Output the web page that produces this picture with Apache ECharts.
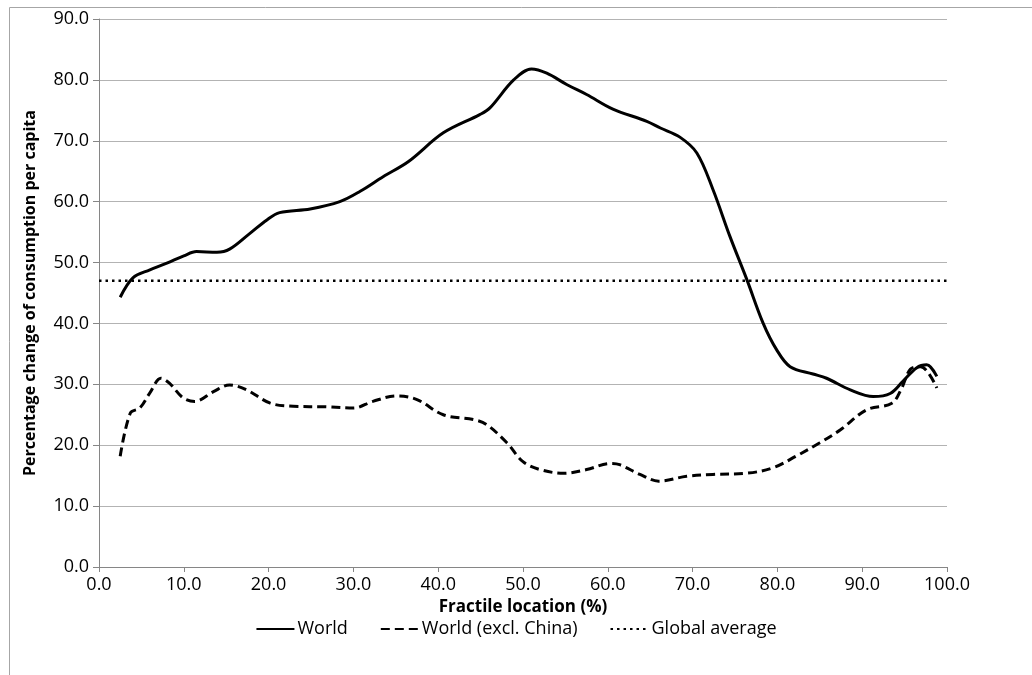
<!DOCTYPE html>
<html lang="en">
<head>
    <meta charset="UTF-8">
    <title>Percentage change of consumption per capita</title>
    <style>
        * { padding: 0; margin: 0; }
        body, html { width: 100%; height: 100%; background: #fff; }
        #main { width: 1032px; height: 675px; }
    </style>
</head>
<body>
    <div id="main"></div>
</body>
</html>
<script src="https://cdn.jsdelivr.net/npm/echarts@6/dist/echarts.min.js"></script>
<script>
    // [fractile location %, percentage change]
    var world = [
        [2.5, 44.3], [4.0, 47.5], [6.0, 48.8], [8.0, 49.9], [10.0, 51.1], [11.5, 51.8],
        [13.9, 51.7], [15.4, 52.2], [17.8, 54.8], [19.8, 57.0], [21.3, 58.2], [24.9, 58.8],
        [28.4, 60.0], [30.8, 61.7], [33.5, 64.1], [36.5, 66.6], [40.6, 71.3], [44.9, 74.3],
        [46.1, 75.4], [48.9, 80.0], [51.0, 81.8], [52.8, 81.1], [55.2, 79.2], [57.5, 77.6],
        [60.6, 75.2], [64.6, 73.2], [66.2, 72.1], [68.5, 70.6], [70.5, 68.0], [72.4, 62.0],
        [74.4, 54.3], [76.4, 47.2], [78.3, 40.1], [79.9, 35.7], [81.5, 32.9], [84.2, 31.7],
        [85.8, 31.0], [88.6, 29.1], [91.3, 28.0], [93.3, 28.5], [94.8, 30.5], [96.4, 32.7],
        [97.6, 33.2], [98.8, 31.3]
    ];
    var worldExclChina = [
        [2.5, 18.2], [3.7, 25.3], [4.8, 26.1], [6.0, 28.6], [7.3, 31.0], [8.3, 30.2],
        [9.9, 27.8], [11.3, 27.2], [13.5, 28.8], [15.4, 29.9], [17.4, 29.1], [20.2, 26.9],
        [22.9, 26.4], [26.8, 26.3], [30.0, 26.1], [32.3, 27.2], [35.1, 28.1], [37.5, 27.5],
        [40.6, 25.0], [44.2, 24.2], [45.7, 23.4], [48.1, 20.4], [50.0, 17.3], [52.0, 16.0],
        [54.8, 15.4], [57.5, 16.0], [60.3, 17.0], [61.4, 16.8], [63.8, 15.2], [66.0, 14.1],
        [69.3, 14.9], [72.4, 15.2], [76.4, 15.4], [79.5, 16.3], [82.2, 18.2], [85.0, 20.4],
        [87.4, 22.5], [90.5, 25.8], [93.5, 26.9], [94.6, 29.2], [95.7, 32.5], [96.9, 32.9],
        [98.8, 29.4]
    ];
    var globalAverage = [[0, 47.0], [100, 47.0]];

    var seriesNames = ['World', 'World (excl. China)', 'Global average'];

    var font = 'Open Sans';
    var myChart = echarts.init(document.getElementById('main'));

    var option = {
        backgroundColor: '#fff',
        animation: false,
        textStyle: { fontFamily: font },
        graphic: [{
            // outer chart frame (only left and top edges are in view)
            type: 'rect',
            shape: { x: 9.5, y: 7.5, width: 1100, height: 800 },
            style: { fill: null, stroke: '#a6a6a6', lineWidth: 1 },
            silent: true
        }],
        grid: { left: 99, right: 85, top: 19, bottom: 108 },
        legend: {
            data: seriesNames,
            bottom: 32,
            left: 'center',
            itemWidth: 38,
            itemHeight: 14,
            itemGap: 32,
            // hide the symbol part of the legend icon, keep the line
            itemStyle: { color: 'rgba(0,0,0,0)', borderWidth: 0, opacity: 0 },
            textStyle: { fontFamily: font, fontSize: 18, color: '#000', padding: [0, 0, 0, -2] }
        },
        xAxis: {
            type: 'value',
            min: 0,
            max: 100,
            interval: 10,
            name: 'Fractile location (%)',
            nameLocation: 'middle',
            nameGap: 29,
            nameTextStyle: { fontFamily: font, fontSize: 17, fontWeight: 'bold', color: '#000' },
            axisLine: { lineStyle: { color: '#868686', width: 1 } },
            axisTick: { show: true, length: 5, lineStyle: { color: '#868686' } },
            axisLabel: {
                margin: 9,
                fontSize: 18,
                color: '#000',
                formatter: function (v) { return v.toFixed(1); }
            },
            splitLine: { show: false }
        },
        yAxis: {
            type: 'value',
            min: 0,
            max: 90,
            interval: 10,
            name: 'Percentage change of consumption per capita',
            nameLocation: 'middle',
            nameGap: 61,
            nameTextStyle: { fontFamily: font, fontSize: 16, fontWeight: 'bold', color: '#000' },
            axisLine: { show: true, lineStyle: { color: '#868686', width: 1 } },
            axisTick: { show: true, length: 6, lineStyle: { color: '#868686' } },
            axisLabel: {
                margin: 10,
                fontSize: 18,
                color: '#000',
                formatter: function (v) { return v.toFixed(1); }
            },
            splitLine: { show: true, lineStyle: { color: '#b3b3b3', width: 1 } }
        },
        series: [{
            name: seriesNames[0],
            type: 'line',
            data: world,
            smooth: 0.35,
            symbol: 'none',
            lineStyle: { color: '#000', width: 3, type: 'solid' },
            itemStyle: { color: '#000' },
            z: 3
        }, {
            name: seriesNames[1],
            type: 'line',
            data: worldExclChina,
            smooth: 0.35,
            symbol: 'none',
            lineStyle: { color: '#000', width: 3, type: [9, 5] },
            itemStyle: { color: '#000' },
            z: 2
        }, {
            name: seriesNames[2],
            type: 'line',
            data: globalAverage,
            symbol: 'none',
            lineStyle: { color: '#000', width: 2.5, type: [2.5, 4] },
            itemStyle: { color: '#000' },
            z: 1
        }]
    };
    myChart.setOption(option);
</script>
